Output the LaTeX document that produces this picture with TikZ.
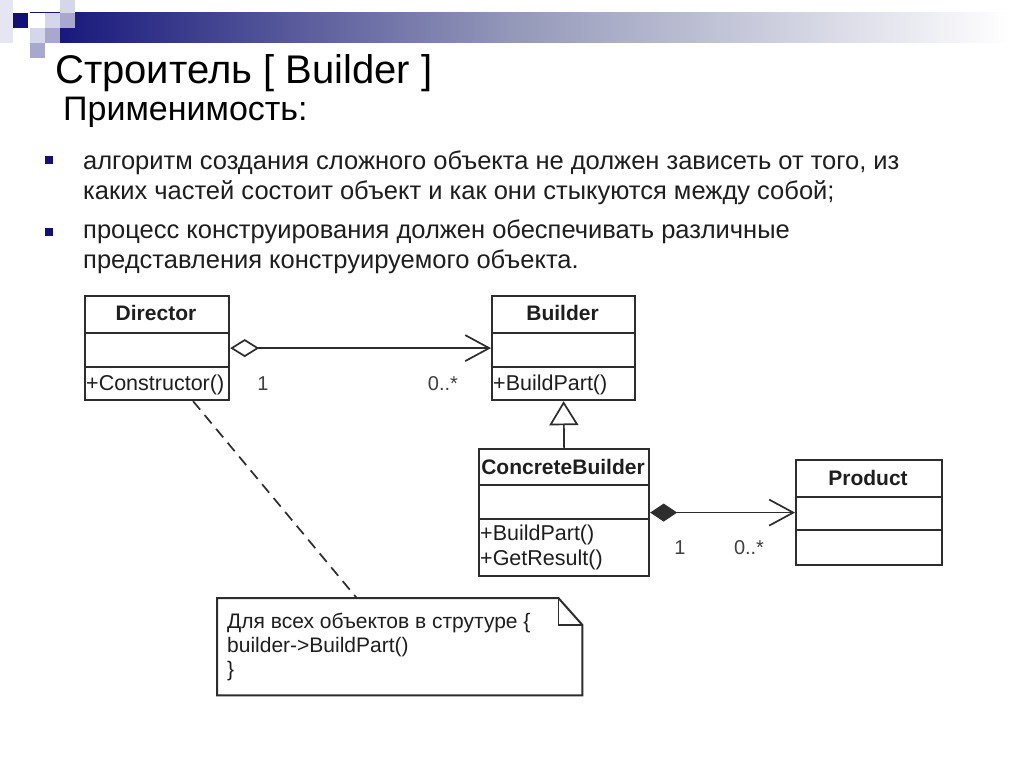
\documentclass[tikz,border=0pt]{standalone}
\usepackage{fontspec}
\setmainfont{Liberation Sans}
\usetikzlibrary{arrows.meta,shapes.geometric}
\definecolor{navy}{RGB}{16,16,120}
\definecolor{linec}{RGB}{45,45,45}
\definecolor{textc}{RGB}{30,30,30}
\definecolor{sqlight}{RGB}{214,214,234}
\definecolor{sqmid}{RGB}{168,168,206}
\definecolor{sqpale}{RGB}{230,230,242}
\begin{document}
\begin{tikzpicture}[x=1pt,y=-1pt,
  cls/.style={draw=linec, line width=2.2pt, fill=white, inner sep=0, anchor=north west},
  sep/.style={draw=linec, line width=2pt},
  clsname/.style={font=\fontsize{21}{25}\selectfont\bfseries, text=textc, anchor=base, inner sep=0},
  op/.style={font=\fontsize{21.5}{25}\selectfont, text=textc, anchor=base west, inner sep=0},
  mult/.style={font=\fontsize{20}{24}\selectfont, text=textc!85, anchor=base, inner sep=0},
  conn/.style={draw=linec, line width=1.7pt},
  bullettext/.style={font=\fontsize{25.5}{30}\selectfont, text=textc, anchor=base west, inner sep=0},
  notetext/.style={font=\fontsize{21}{24}\selectfont, text=textc, anchor=base west, inner sep=0},
  bulletsq/.style={fill=navy, minimum size=8pt, inner sep=0}
]
\useasboundingbox (0,0) rectangle (1024,767);
\fill[white] (0,0) rectangle (1024,767);

% header bar
\shade[left color=navy, right color=white, middle color={rgb,255:red,150;green,154;blue,186}] (30,13) rectangle (1010,43);
\fill[white] (0,0) rectangle (30,13);
\fill[sqpale] (0,0) rectangle (13,43);
\fill[navy] (13,13) rectangle (28,28);
\fill[sqlight] (30,28) rectangle (45,43);
\fill[sqmid] (30,43) rectangle (45,58);
\fill[sqlight] (45,13) rectangle (60,28);
\fill[sqmid] (45,28) rectangle (60,43);
\fill[sqlight] (60,0) rectangle (75,13);
\fill[sqmid] (60,13) rectangle (75,28);
\fill[white] (28,13) rectangle (45,28);

% titles
\node[anchor=base west, inner sep=0, font=\fontsize{40}{48}\selectfont, text=black] (title) at (55,84) {Строитель [ Builder ]};
\node[anchor=base west, inner sep=0, font=\fontsize{34}{40}\selectfont, text=black] (subtitle) at (63,121) {Применимость:};

% bullets
\node[bulletsq] (b1) at (49,160) {};
\node[bulletsq] (b2) at (49,232) {};
\node[bullettext] (t1) at (83,170) {алгоритм создания сложного объекта не должен зависеть от того, из};
\node[bullettext] (t2) at (83,200) {каких частей состоит объект и как они стыкуются между собой;};
\node[bullettext] (t3) at (83,238) {процесс конструирования должен обеспечивать различные};
\node[bullettext] (t4) at (83,268) {представления конструируемого объекта.};

% Director
\node[cls, minimum width=144pt, minimum height=104pt] (dir) at (84,295) {};
\draw[sep] (dir.north west) ++(0,38) -- ++(144,0);
\draw[sep] (dir.north west) ++(0,72) -- ++(144,0);
\node[clsname] (dirn) at (156,320) {Director};
\node[op] (dirop) at (86,390) {+Constructor()};

% Builder
\node[cls, minimum width=143pt, minimum height=104pt] (bld) at (491,295) {};
\draw[sep] (bld.north west) ++(0,38) -- ++(143,0);
\draw[sep] (bld.north west) ++(0,72) -- ++(143,0);
\node[clsname] (bldn) at (562.5,320) {Builder};
\node[op] (bldop) at (493,390) {+BuildPart()};

% ConcreteBuilder
\node[cls, minimum width=170pt, minimum height=127pt] (cb) at (478,448) {};
\draw[sep] (cb.north west) ++(0,37) -- ++(170,0);
\draw[sep] (cb.north west) ++(0,71) -- ++(170,0);
\node[clsname] (cbn) at (563,474) {ConcreteBuilder};
\node[op] (cbop1) at (480,540) {+BuildPart()};
\node[op] (cbop2) at (480,565) {+GetResult()};

% Product
\node[cls, minimum width=146pt, minimum height=105pt] (prod) at (795,459) {};
\draw[sep] (prod.north west) ++(0,38) -- ++(146,0);
\draw[sep] (prod.north west) ++(0,71) -- ++(146,0);
\node[clsname] (prodn) at (868,485) {Product};

% Note
\node[minimum width=365pt, minimum height=97pt, inner sep=0, anchor=north west] (note) at (217,598) {};
\draw[linec, line width=2pt, fill=white] (note.north west) -- ([xshift=-24pt]note.north east) -- ([yshift=-27pt]note.north east) -- (note.south east) -- (note.south west) -- cycle;
\draw[linec, line width=1.7pt] ([xshift=-24pt]note.north east) -- ++(0,27) -- ([yshift=-27pt]note.north east);
\node[notetext] (n1) at (227,628) {Для всех объектов в струтуре \{};
\node[notetext] (n2) at (227,652) {builder->BuildPart()};
\node[notetext] (n3) at (227,676) {\}};

% connectors
\draw[conn, {Diamond[open, length=29pt, width=18pt, fill=white, line width=1.7pt]}-{Straight Barb[length=24pt, width=26pt, line width=1.7pt]}] (dir.east) -- (bld.west);
\node[mult] (m1) at (263,390) {1};
\node[mult] (m2) at (443,390) {0..*};

\draw[conn, -{Triangle[open, length=24pt, width=29pt, fill=white, line width=1.7pt]}] (cb.north) -- (bld.south);

\draw[conn, {Diamond[length=27pt, width=18pt]}-{Straight Barb[length=24pt, width=26pt, line width=1.7pt]}] (cb.east) -- (prod.west);
\node[mult] (m3) at (680,554) {1};
\node[mult] (m4) at (749,554) {0..*};

\draw[conn, dash pattern=on 11pt off 7pt] ([xshift=36pt]dir.south) -- ([xshift=-43pt]note.north);
\end{tikzpicture}
\end{document}
